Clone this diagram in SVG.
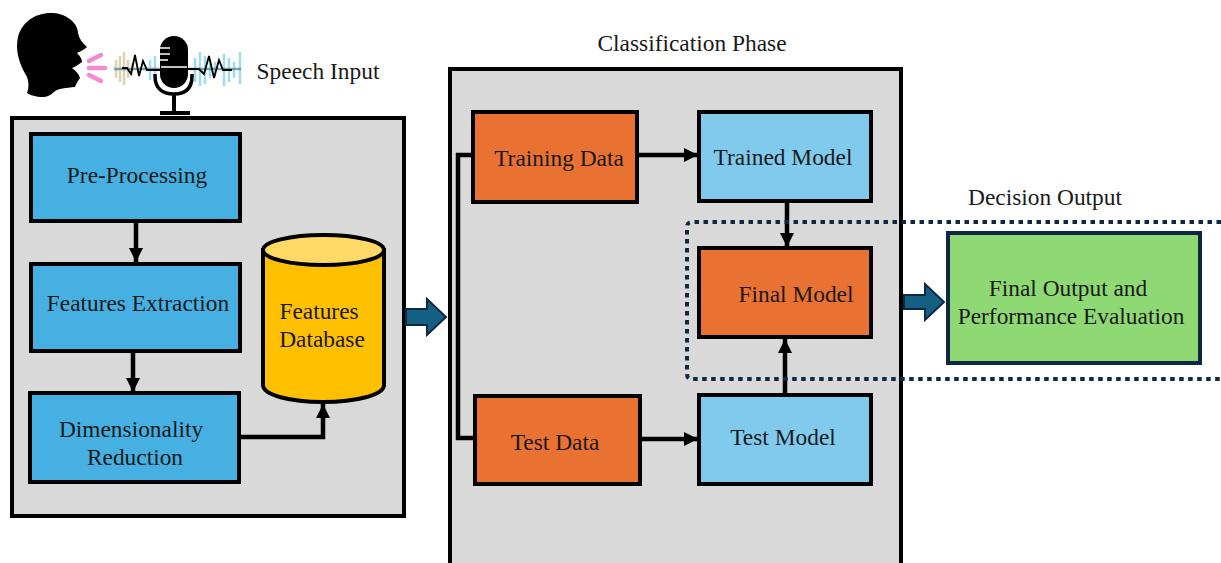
<svg xmlns="http://www.w3.org/2000/svg" width="1221" height="563" viewBox="0 0 1221 563">
<style>
text{font-family:"Liberation Serif","Times New Roman",serif;font-size:23.4px;fill:#1a1a1a;text-anchor:middle}
.panel{fill:#d9d9d9;stroke:#000;stroke-width:4}
.blue{fill:#45b0e1;stroke:#000;stroke-width:4}
.sky{fill:#80caed;stroke:#000;stroke-width:4}
.orange{fill:#e97132;stroke:#000;stroke-width:4}
.conn{fill:none;stroke:#000;stroke-width:4.5}
.dot{fill:none;stroke:#0e2841;stroke-width:4;stroke-dasharray:4.5 4.5}
.big{fill:#156082;stroke:#0e2841;stroke-width:2}
.wave{fill:none;stroke:#7fd0e6;stroke-width:2.5;opacity:.75}
.wave2{fill:none;stroke:#c9b98a;stroke-width:2.5;opacity:.65}
</style>
<defs>
<marker id="ah" markerUnits="userSpaceOnUse" markerWidth="16" markerHeight="16" refX="14" refY="8" orient="auto"><path d="M0,1 L14,8 L0,15 Z" fill="#000"/></marker>
<filter id="soft" x="-5%" y="-5%" width="110%" height="110%"><feGaussianBlur stdDeviation="0.5"/></filter>
</defs>
<rect width="1221" height="563" fill="#fff"/>
<g id="speech-icon" filter="url(#soft)">
<path d="M27,77 C19,64 15,50 18,37 C22,21 37,12 53,13 C68,14 78,24 78,33 C79,38 82,43 87,47 C84,50 79,52 77,53 C80,56 82,59 82,62 C78,65 75,67 72,68 C76,71 79,74 80,78 C78,81 76,84 75,87 C66,88 58,88 54,92 C50,96 46,97 43,97 C36,97 30,95 27,93 C29,88 29,82 27,77 Z" fill="#000"/>
<g stroke="#f28bd0" stroke-width="4.5" stroke-linecap="round" fill="none"><path d="M89,61 L101,55"/><path d="M89,68 L105,68"/><path d="M89,75 L101,81"/></g>
<path class="wave2" d="M116,60V78M120,56V82M124,52V85M128,60V78M132,63V75"/>
<path class="wave" d="M150,60V80M155,56V82M195,58V82M200,52V86M205,56V84M210,60V78M215,62V76M224,54V86M229,58V82M234,62V78M240,52V84"/>
<path d="M114,69H241" stroke="#5f8a96" stroke-width="2.500" opacity=".8" fill="none"/>
<path d="M122,68H127L131,74L135,55L139,76L143,61L147,70H160M188,69H199L204,74L209,56L214,78L219,60L223,70H232" fill="none" stroke="#000" stroke-width="1.8"/>
<rect x="160" y="36" width="28" height="52" rx="14" fill="#000"/>
<path d="M160,48H170M160,54H170M160,60H168M161,67H187" stroke="#fff" stroke-width="1.6"/>
<path d="M155,74V76C155,88 162,94 174,94C186,94 192,88 192,76V74" fill="none" stroke="#000" stroke-width="3.500"/>
<path d="M174,94V112M160,113H190" stroke="#000" stroke-width="4" fill="none"/>
</g>
<text x="318" y="79">Speech Input</text>
<g id="feature-panel"><rect class="panel" x="12" y="118" width="392" height="398"/></g>
<g id="classification-panel"><rect class="panel" x="450" y="69" width="451" height="500"/><text x="692" y="51">Classification Phase</text></g>
<g id="connectors">
<path class="conn" d="M136,222V262" marker-end="url(#ah)"/>
<path class="conn" d="M133,352V392" marker-end="url(#ah)"/>
<path class="conn" d="M240,437H323V404" marker-end="url(#ah)"/>
<path class="conn" d="M473,155H458V438H475"/>
<path class="conn" d="M637,155H698" marker-end="url(#ah)"/>
<path class="conn" d="M641,439H698" marker-end="url(#ah)"/>
<path class="conn" d="M787,202V247" marker-end="url(#ah)"/>
<path class="conn" d="M785,394V339" marker-end="url(#ah)"/>
</g>
<g id="pre-processing"><rect class="blue" x="31" y="134" width="209" height="87"/><text x="137" y="183">Pre-Processing</text></g>
<g id="features-extraction"><rect class="blue" x="31" y="264" width="209" height="87"/><text x="138" y="311">Features Extraction</text></g>
<g id="dimensionality-reduction"><rect class="blue" x="30" y="393" width="209" height="89"/><text x="131" y="437">Dimensionality</text><text x="135" y="465">Reduction</text></g>
<g id="features-database">
<path d="M263,250V385C263,395 290,402 323,402C356,402 384,395 384,385V250Z" fill="#ffc000" stroke="#000" stroke-width="4"/>
<ellipse cx="323.500" cy="250" rx="60.500" ry="15" fill="#ffd966" stroke="#000" stroke-width="4"/>
<text x="319" y="319">Features</text><text x="322" y="347">Database</text>
</g>
<g id="training-data"><rect class="orange" x="473" y="112" width="164" height="90"/><text x="559" y="166">Training Data</text></g>
<g id="trained-model"><rect class="sky" x="699" y="112" width="172" height="89"/><text x="783" y="165">Trained Model</text></g>
<g id="final-model"><rect class="orange" x="699" y="248" width="172" height="89"/><text x="796" y="302">Final Model</text></g>
<g id="test-data"><rect class="orange" x="475" y="396" width="165" height="88"/><text x="555" y="450">Test Data</text></g>
<g id="test-model"><rect class="sky" x="699" y="395" width="172" height="89"/><text x="783" y="445">Test Model</text></g>
<g id="decision-region">
<path class="dot" d="M1221,222H692Q687,222 687,227V374Q687,379 692,379H1221"/>
<text x="1045" y="205">Decision Output</text>
</g>
<g id="big-arrows">
<path class="big" d="M406,309H427V299L446,317L427,335V325H406Z"/>
<path class="big" d="M904,295H925V284L944,302L925,320V309H904Z"/>
</g>
<g id="final-output"><rect x="948" y="233" width="252" height="130" fill="#8ed973" stroke="#0e2841" stroke-width="4"/><text x="1068" y="296">Final Output and</text><text x="1071" y="324">Performance Evaluation</text></g>
</svg>
